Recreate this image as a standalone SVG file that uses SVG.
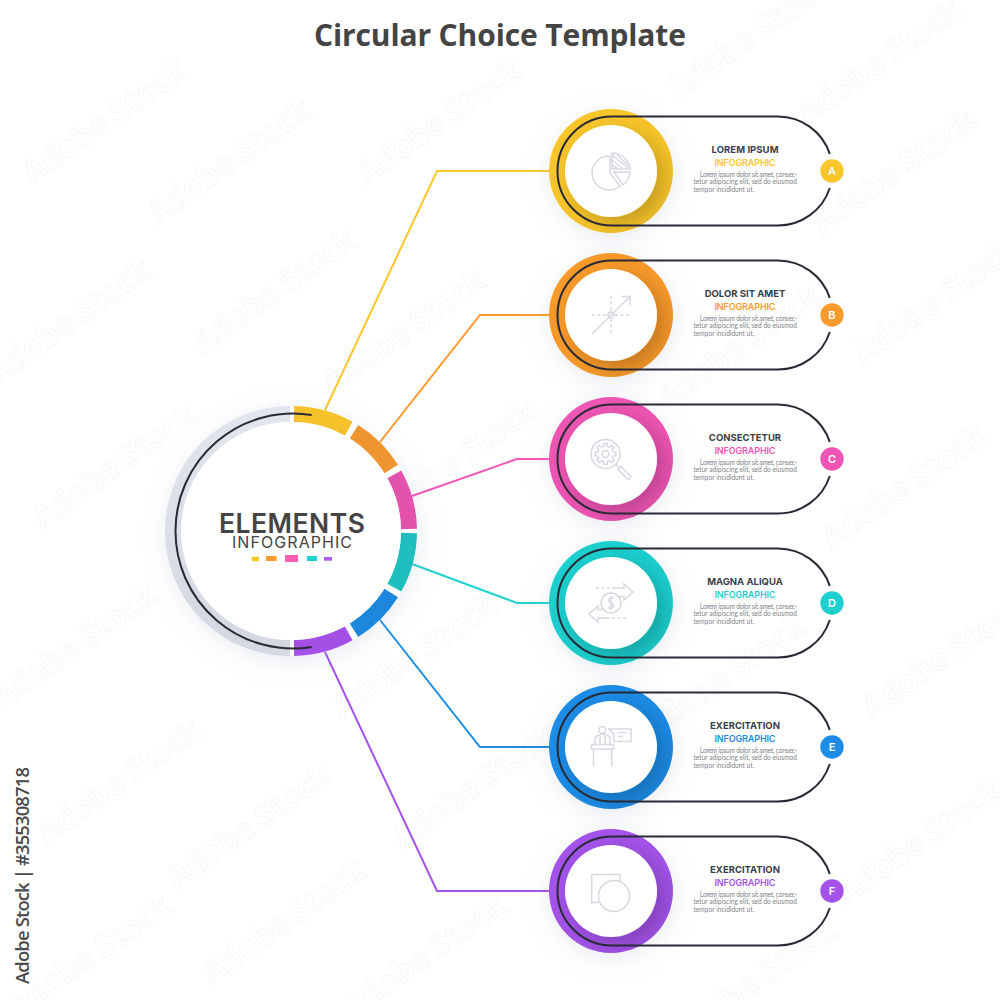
<svg xmlns="http://www.w3.org/2000/svg" xmlns:xlink="http://www.w3.org/1999/xlink" width="1000" height="1000" viewBox="0 0 1000 1000">
<style>
text{font-family:"Inter","Liberation Sans",sans-serif}
.title{font-family:"Open Sans","Liberation Sans",sans-serif;font-weight:700;font-size:30px;fill:#444;text-anchor:middle}
.big{fill:#444;text-anchor:middle}
.nt{font-size:9.5px;font-weight:700;fill:#3b4048;text-anchor:middle}
.ni{font-size:9px;font-weight:600;text-anchor:middle}
.b{font-family:"Lato","Liberation Sans",sans-serif;font-size:6.6px;fill:#7d7f88}
.bl{font-size:11px;font-weight:600;fill:#fff;text-anchor:middle}
.pill{fill:none;stroke:#282b36;stroke-width:2}
.ic{fill:none;stroke:#d6d9e0;stroke-width:1.5}
.dash{stroke-dasharray:3 2.5}
.cn{fill:none;stroke-width:2}
.seg{fill:none;stroke-width:16}
.wm{font-family:"Open Sans","Liberation Sans",sans-serif;font-weight:700;font-size:31px;fill:#fff;stroke:#f7f8fa;stroke-width:1;text-anchor:middle}
.stock{font-family:"Open Sans","Liberation Sans",sans-serif;font-weight:600;font-size:18.5px;fill:#4a4a4a}
</style>
<defs>
<filter id="sh" x="-40%" y="-40%" width="180%" height="180%"><feDropShadow dx="1" dy="5" stdDeviation="13" flood-color="#8c96b4" flood-opacity=".2"/></filter>
<filter id="in" x="-50%" y="-50%" width="200%" height="200%"><feDropShadow dx="8" dy="8" stdDeviation="11" flood-color="#000" flood-opacity=".22"/></filter>
<linearGradient id="gr" x1="0" y1="0" x2="0" y2="1"><stop offset="0" stop-color="#e1e5ee"/><stop offset="1" stop-color="#d3d8e3"/></linearGradient>
<clipPath id="rc"><circle r="62"/></clipPath>
<path id="pillp" class="pill" d="M218.8-17A54.5 54.5 0 0 0 167-54.5H1A54.5 54.5 0 0 0 1 54.5H167A54.5 54.5 0 0 0 218.8 17"/>
<g id="lorem">
<text class="b" x="89" y="5.6" textLength="97">Lorem ipsum dolor sit amet, consec-</text>
<text class="b" x="82.5" y="13" textLength="103.5">tetur adipiscing elit, sed do eiusmod</text>
<text class="b" x="82.5" y="20.5">tempor incididunt ut.</text>
</g>
<text id="w" class="wm">Adobe Stock</text>
</defs>
<rect width="1000" height="1000" fill="#fff"/>
<g id="watermarks">
<use href="#w" transform="translate(110 130) rotate(-35)"/><use href="#w" transform="translate(235 170) rotate(-35)"/><use href="#w" transform="translate(445 130) rotate(-35)"/><use href="#w" transform="translate(755 45) rotate(-35)"/><use href="#w" transform="translate(900 180) rotate(-35)"/><use href="#w" transform="translate(885 70) rotate(-35)"/><use href="#w" transform="translate(280 300) rotate(-35)"/><use href="#w" transform="translate(75 330) rotate(-35)"/><use href="#w" transform="translate(410 340) rotate(-35)"/><use href="#w" transform="translate(745 355) rotate(-35)"/><use href="#w" transform="translate(940 310) rotate(-35)"/><use href="#w" transform="translate(120 475) rotate(-35)"/><use href="#w" transform="translate(460 470) rotate(-35)"/><use href="#w" transform="translate(910 495) rotate(-35)"/><use href="#w" transform="translate(80 655) rotate(-35)"/><use href="#w" transform="translate(420 665) rotate(-35)"/><use href="#w" transform="translate(730 685) rotate(-35)"/><use href="#w" transform="translate(950 665) rotate(-35)"/><use href="#w" transform="translate(125 790) rotate(-35)"/><use href="#w" transform="translate(255 835) rotate(-35)"/><use href="#w" transform="translate(480 795) rotate(-35)"/><use href="#w" transform="translate(290 930) rotate(-35)"/><use href="#w" transform="translate(95 965) rotate(-35)"/><use href="#w" transform="translate(430 965) rotate(-35)"/><use href="#w" transform="translate(925 850) rotate(-35)"/><use href="#w" transform="translate(760 990) rotate(-35)"/>
</g>
<text class="title" x="500" y="46" textLength="372">Circular Choice Template</text>
<g id="connectors">
<path class="cn" stroke="#fcc62c" d="M325 410 437 171H552"/>
<path class="cn" stroke="#fc9a2c" d="M380 442 480 315H552"/>
<path class="cn" stroke="#f555b8" d="M412 496 517 459H552"/>
<path class="cn" stroke="#1fd2d2" d="M412 564 517 603H552"/>
<path class="cn" stroke="#1c8ee8" d="M380 620 480 747H552"/>
<path class="cn" stroke="#a452ea" d="M325 652 437 891H552"/>
</g>
<g id="center">
<circle cx="292" cy="531" r="125" fill="#fff" filter="url(#sh)"/>
<path class="seg" stroke="url(#gr)" d="M290 648A117 117 0 0 1 290 414"/>
<path class="seg" stroke="#f6c22c" d="M294 414A117 117 0 0 1 348.7 428.7"/>
<path class="seg" stroke="#ef952f" d="M354 431.8A117 117 0 0 1 391.2 469"/>
<path class="seg" stroke="#e353ad" d="M394.3 474.3A117 117 0 0 1 409 529"/>
<path class="seg" stroke="#1fbfbf" d="M409 533A117 117 0 0 1 394.3 587.7"/>
<path class="seg" stroke="#1c87dc" d="M391.2 593A117 117 0 0 1 354 630.2"/>
<path class="seg" stroke="#a44fe6" d="M348.7 633.3A117 117 0 0 1 294 648"/>
<circle cx="292" cy="531" r="109" fill="#fff"/>
<path class="pill" d="M311.7 415A117.5 117.5 0 1 0 311.7 647"/>
<text class="big" x="292" y="533" font-size="26.5" font-weight="600" textLength="146">ELEMENTS</text>
<text class="big" x="292" y="548" font-size="16" font-weight="400" textLength="120">INFOGRAPHIC</text>
<rect x="251.7" y="556.7" width="7.3" height="4.5" fill="#ffc72c"/>
<rect x="266" y="556" width="10.5" height="5" fill="#ff9a2c"/>
<rect x="285" y="555" width="13" height="7" fill="#ff5cb8"/>
<rect x="307" y="556" width="10" height="5" fill="#1fd4d4"/>
<rect x="324" y="557" width="8" height="3.7" fill="#ad5bf0"/>
</g>
<g id="node-a" transform="translate(611 171)">
<circle r="62" fill="#f9c62c" filter="url(#sh)"/>
<g clip-path="url(#rc)"><circle r="46" fill="#fff" filter="url(#in)"/></g>
<g class="ic" transform="translate(-611 -171)"><path d="M610 156A17 17 0 1 0 620 186L610 173Z"/><path d="M612 153A18 18 0 0 1 630 169H612Z"/><path d="M612 155 628 168M612 160 622 168M617 155 629 166M612 165 617 168"/><path d="M614 172H630A18 18 0 0 1 623 185Z"/></g>
<use href="#pillp"/>
<circle cx="221" r="11.7" fill="#f9c62c"/>
<text class="bl" x="221" y="4">A</text>
<text class="nt" x="134" y="-18" textLength="67">LOREM IPSUM</text>
<text class="ni" x="134" y="-5" textLength="61" fill="#f9c62c">INFOGRAPHIC</text>
<use href="#lorem"/>
</g>
<g id="node-b" transform="translate(611 315)">
<circle r="62" fill="#f89a2c" filter="url(#sh)"/>
<g clip-path="url(#rc)"><circle r="46" fill="#fff" filter="url(#in)"/></g>
<g class="ic"><path d="M-19 19 19-18.500M10.500-18.500H19V-10"/><path class="dash" d="M-19 0H-4M4 0H19M0-19V-4M0 4V19"/><circle r="3"/></g>
<use href="#pillp"/>
<circle cx="221" r="11.700" fill="#f89a2c"/>
<text class="bl" x="221" y="4">B</text>
<text class="nt" x="134" y="-18">DOLOR SIT AMET</text>
<text class="ni" x="134" y="-5" textLength="61" fill="#f89a2c">INFOGRAPHIC</text>
<use href="#lorem"/>
</g>
<g id="node-c" transform="translate(611 459)">
<circle r="62" fill="#ee55b4" filter="url(#sh)"/>
<g clip-path="url(#rc)"><circle r="46" fill="#fff" filter="url(#in)"/></g>
<g class="ic" transform="translate(-5.500 -5)"><circle r="14.500"/><circle r="3.500"/><path d="M7.800-1.900 10.400-1.600V1.600L7.800 1.900 6.860 4.170 8.480 6.220 6.220 8.480 4.170 6.860 1.900 7.800 1.600 10.400H-1.600L-1.900 7.800-4.170 6.860-6.220 8.480-8.480 6.220-6.860 4.170-7.800 1.900-10.400 1.600V-1.600L-7.800-1.900-6.860-4.170-8.480-6.220-6.220-8.480-4.170-6.860-1.900-7.800-1.600-10.400H1.600L1.900-7.800 4.170-6.860 6.220-8.480 8.480-6.220 6.860-4.170Z"/><path d="M10.200 10.200 14 14"/><path d="M12.500 15.500 15.500 12.500 24.500 21.500A2.100 2.100 0 0 1 21.500 24.500Z"/></g>
<use href="#pillp"/>
<circle cx="221" r="11.700" fill="#ee55b4"/>
<text class="bl" x="221" y="4">C</text>
<text class="nt" x="134" y="-18">CONSECTETUR</text>
<text class="ni" x="134" y="-5" textLength="61" fill="#ee55b4">INFOGRAPHIC</text>
<use href="#lorem"/>
</g>
<g id="node-d" transform="translate(611 603)">
<circle r="62" fill="#1fcfcf" filter="url(#sh)"/>
<g clip-path="url(#rc)"><circle r="46" fill="#fff" filter="url(#in)"/></g>
<g class="ic"><circle r="10"/><path d="M2.500-4.500C0-6-3-5-2.500-2.500S3 .5 2.500 3-1 6-3 4.500M0-7V7"/><path class="dash" d="M-15-15H3"/><path d="M3-15H13V-19L22-11 13-3V-6.500H6"/><path class="dash" d="M15 15H-3"/><path d="M-3 15H-13V19L-22 11-13 3V6.500H-6"/></g>
<use href="#pillp"/>
<circle cx="221" r="11.700" fill="#1fcfcf"/>
<text class="bl" x="221" y="4">D</text>
<text class="nt" x="134" y="-18">MAGNA ALIQUA</text>
<text class="ni" x="134" y="-5" textLength="61" fill="#1fcfcf">INFOGRAPHIC</text>
<use href="#lorem"/>
</g>
<g id="node-e" transform="translate(611 747)">
<circle r="62" fill="#1c8ce6" filter="url(#sh)"/>
<g clip-path="url(#rc)"><circle r="46" fill="#fff" filter="url(#in)"/></g>
<g class="ic"><circle cx="-8.700" cy="-17" r="3.500"/><path d="M-16-3V-8Q-16-11-13-11.500L-8.700-13-4-11.500Q-1-11-1-8V-3M-11-11V-3M-6-11V-3"/><path d="M-19.500-2.500H2.700V2H-19.500ZM-17.500 2V20M.7 2V20"/><path d="M-2-18H20V-5.500H3V-13Z"/><path d="M7-14.500H15M7-10.500H12"/></g>
<use href="#pillp"/>
<circle cx="221" r="11.700" fill="#1c8ce6"/>
<text class="bl" x="221" y="4">E</text>
<text class="nt" x="134" y="-18">EXERCITATION</text>
<text class="ni" x="134" y="-5" textLength="61" fill="#1c8ce6">INFOGRAPHIC</text>
<use href="#lorem"/>
</g>
<g id="node-f" transform="translate(611 891)">
<circle r="62" fill="#a452ea" filter="url(#sh)"/>
<g clip-path="url(#rc)"><circle r="46" fill="#fff" filter="url(#in)"/></g>
<g class="ic"><path d="M9-10V-16.500H-19.300V11.500H-12"/><circle cx="3" cy="5" r="15.500"/></g>
<use href="#pillp"/>
<circle cx="221" r="11.700" fill="#a452ea"/>
<text class="bl" x="221" y="4">F</text>
<text class="nt" x="134" y="-18">EXERCITATION</text>
<text class="ni" x="134" y="-5" textLength="61" fill="#a452ea">INFOGRAPHIC</text>
<use href="#lorem"/>
</g>
<text class="stock" transform="translate(29 984) rotate(-90)" textLength="217">Adobe Stock | #355308718</text>
</svg>
